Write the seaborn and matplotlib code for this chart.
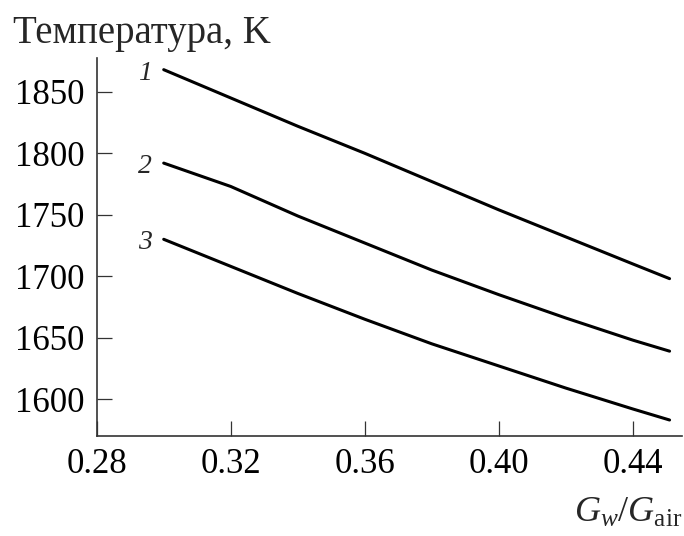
import matplotlib
matplotlib.use("Agg")
import matplotlib.pyplot as plt
import seaborn as sns
import pandas as pd

# Data
x_vals = [0.30, 0.32, 0.34, 0.36, 0.38, 0.40, 0.42, 0.44, 0.451]
curve1 = [1868, 1845, 1822, 1800, 1777, 1754, 1732, 1710, 1698]
curve2 = [1792, 1773, 1749, 1727, 1705, 1685, 1666, 1648, 1639]
curve3 = [1730, 1708, 1686, 1665, 1645, 1627, 1609, 1592, 1583]
curve_labels = ["1", "2", "3"]
x_ticks = [0.28, 0.32, 0.36, 0.40, 0.44]
x_ticklabels = ["0.28", "0.32", "0.36", "0.40", "0.44"]
y_ticks = [1600, 1650, 1700, 1750, 1800, 1850]
y_label = "Температура, K"
x_label = r"$G_w/G_{\mathrm{air}}$"

sns.set_theme(style="ticks")
plt.rcParams["font.family"] = ["Liberation Serif", "DejaVu Serif"]
plt.rcParams["mathtext.fontset"] = "custom"
plt.rcParams["mathtext.rm"] = "Liberation Serif"
plt.rcParams["mathtext.it"] = "Liberation Serif:italic"

df = pd.DataFrame({
    "x": x_vals * 3,
    "T": curve1 + curve2 + curve3,
    "curve": [curve_labels[0]] * len(x_vals) + [curve_labels[1]] * len(x_vals) + [curve_labels[2]] * len(x_vals),
})

fig = plt.figure(figsize=(6.84, 5.36), dpi=100)
ax = fig.add_axes([0.1414, 0.1866, 0.8556, 0.7052])

sns.lineplot(data=df, x="x", y="T", hue="curve",
             palette=["black", "black", "black"], linewidth=2.2,
             legend=False, ax=ax)
for line in ax.get_lines():
    line.set_solid_joinstyle("round")
    line.set_solid_capstyle("round")

ax.set_xlim(0.28, 0.4547)
ax.set_ylim(1570, 1877.5)
ax.set_xticks(x_ticks)
ax.set_xticklabels(x_ticklabels)
ax.set_yticks(y_ticks)
ax.set_xlabel("")
ax.set_ylabel("")

for s in ["top", "right"]:
    ax.spines[s].set_visible(False)
for s in ["left", "bottom"]:
    ax.spines[s].set_color("#333333")
    ax.spines[s].set_linewidth(1.2)

ax.tick_params(axis="both", direction="in", length=10.5, width=0.9,
               color="#333333", labelsize=25, labelcolor="black")
ax.tick_params(axis="x", pad=9)
ax.tick_params(axis="y", pad=9)

# curve number labels
first = [curve1[0], curve2[0], curve3[0]]
for lab, yv in zip(curve_labels, first):
    ax.text(x_vals[0] - 0.0035, yv - 3, lab, ha="right", va="center",
            fontsize=20, fontstyle="italic")

fig.text(0.019, 0.972, y_label, ha="left", va="top", fontsize=28)
fig.text(0.997, 0.012, x_label, ha="right", va="bottom", fontsize=26)

fig.savefig("out.png", dpi=100)
